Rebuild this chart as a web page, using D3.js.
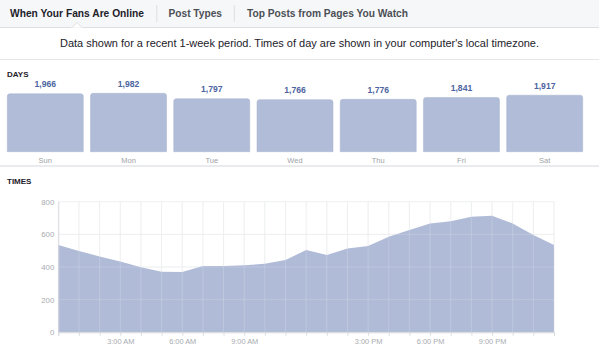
<!DOCTYPE html>
<html><head><meta charset="utf-8">
<script src="https://cdn.jsdelivr.net/npm/d3@7"></script>
<style>html,body{margin:0;padding:0;background:#fff;overflow:hidden}</style>
</head><body><svg id="c" width="599" height="347"></svg>
<script>
const tabs = ["When Your Fans Are Online", "Post Types", "Top Posts from Pages You Watch"];
const subtitle = "Data shown for a recent 1-week period. Times of day are shown in your computer's local timezone.";
const days = ["Sun", "Mon", "Tue", "Wed", "Thu", "Fri", "Sat"];
const dayValues = [1966, 1982, 1797, 1766, 1776, 1841, 1917];
const hours = [0,1,2,3,4,5,6,7,8,9,10,11,12,13,14,15,16,17,18,19,20,21,22,23,24];
const hourValues = [535,498,465,433,398,371,369,406,406,410,420,443,504,473,514,528,586,626,667,680,708,714,667,596,535];
const yTicks = [0, 200, 400, 600, 800];
const xTickHours = [3, 6, 9, 15, 18, 21];
const xTickLabels = ["3:00 AM", "6:00 AM", "9:00 AM", "3:00 PM", "6:00 PM", "9:00 PM"];

const svg = d3.select("#c");
const font = "'Liberation Sans', Arial, Helvetica, sans-serif";
svg.style("font-family", font);

// Header tab bar
svg.append("rect").attr("x",0).attr("y",0).attr("width",599).attr("height",27.5).attr("fill","#f6f7f9");
svg.append("line").attr("x1",0).attr("x2",599).attr("y1",27.5).attr("y2",27.5).attr("stroke","#dddfe2");
svg.append("path").attr("d","M71.5,28 L77,22.5 L82.5,28 Z").attr("fill","#fff").attr("stroke","#dddfe2");
svg.append("rect").attr("x",71).attr("y",27.6).attr("width",12).attr("height",2).attr("fill","#fff");
const tabX = [10, 168.5, 247];
const tabW = [134, 53.5, 161];
tabs.forEach((t,i)=>{
  svg.append("text").attr("x",tabX[i]).attr("y",17.2).text(t)
    .attr("font-size",10).attr("font-weight","bold")
    .attr("fill", i===0 ? "#1d2129" : "#4b4f56")
    .attr("textLength",tabW[i]).attr("lengthAdjust","spacingAndGlyphs");
});
[156.8, 234.3].forEach(x=>svg.append("line").attr("x1",x).attr("x2",x).attr("y1",5).attr("y2",22).attr("stroke","#dddfe2"));

svg.append("text").attr("x",60).attr("y",47.3).text(subtitle)
  .attr("font-size",10).attr("fill","#1d2129")
  .attr("textLength",479).attr("lengthAdjust","spacingAndGlyphs");
svg.append("line").attr("x1",0).attr("x2",599).attr("y1",59.5).attr("y2",59.5).attr("stroke","#e5e6e9");

// DAYS
svg.append("text").attr("x",7).attr("y",76.8).text("DAYS").attr("font-size",8).attr("font-weight","bold").attr("fill","#1d2129");
const xb = d3.scaleBand().domain(days).range([7.3, 582.7]).paddingInner(0.087).paddingOuter(0);
const yb = d3.scaleLinear().domain([0, d3.max(dayValues)]).range([151.7, 93.3]);
const barG = svg.append("g");
days.forEach((d,i)=>{
  const v = dayValues[i];
  barG.append("path")
    .attr("d", (()=>{ const x=xb(d), w=xb.bandwidth(), y=yb(v), b=yb(0), r=2.5;
      return `M${x},${b} L${x},${y+r} Q${x},${y} ${x+r},${y} L${x+w-r},${y} Q${x+w},${y} ${x+w},${y+r} L${x+w},${b} Z`; })())
    .attr("fill","#b1bcd8").attr("stroke","#a6b2cf").attr("stroke-width",0.5);
  barG.append("text").attr("x",xb(d)+xb.bandwidth()/2).attr("y",yb(v)-6.3)
    .attr("text-anchor","middle").attr("font-size",8.6).attr("font-weight","bold").attr("fill","#4c64a0")
    .text(d3.format(",")(v));
  barG.append("text").attr("x",xb(d)+xb.bandwidth()/2).attr("y",162.8)
    .attr("text-anchor","middle").attr("font-size",7.5).attr("fill","#a0a3a8").text(d);
});
svg.append("rect").attr("x",0).attr("y",165).attr("width",599).attr("height",2).attr("fill","#e9ebee");

// TIMES
svg.append("text").attr("x",7).attr("y",184).text("TIMES").attr("font-size",8).attr("font-weight","bold").attr("fill","#1d2129");
const xt = d3.scaleLinear().domain([0,24]).range([58.3, 554]);
const yt = d3.scaleLinear().domain([0,800]).range([332.3, 201.7]);

const gridCol = "#e6e7ea";
const grid = svg.append("g");
hours.forEach(h=>grid.append("line").attr("x1",xt(h)).attr("x2",xt(h)).attr("y1",yt(800)).attr("y2",yt(0)).attr("stroke",gridCol).attr("stroke-width",0.8));
yTicks.forEach(v=>grid.append("line").attr("x1",xt(0)).attr("x2",xt(24)).attr("y1",yt(v)).attr("y2",yt(v)).attr("stroke",gridCol).attr("stroke-width",0.8));

const area = d3.area().x((d,i)=>xt(hours[i])).y0(yt(0)).y1(d=>yt(d));
svg.append("path").attr("d", area(hourValues)).attr("fill","#b0bbd7");

const grid2 = svg.append("g");
hours.forEach(h=>grid2.append("line").attr("x1",xt(h)).attr("x2",xt(h)).attr("y1",yt(800)).attr("y2",yt(0)).attr("stroke","rgba(255,255,255,0.22)").attr("stroke-width",0.8));
yTicks.forEach(v=>grid2.append("line").attr("x1",xt(0)).attr("x2",xt(24)).attr("y1",yt(v)).attr("y2",yt(v)).attr("stroke","rgba(255,255,255,0.22)").attr("stroke-width",0.8));

// Axes
const yAxis = d3.axisLeft(yt).tickValues(yTicks).tickSize(0).tickPadding(4);
const ya = svg.append("g").attr("transform",`translate(${xt(0)},0)`).call(yAxis);
ya.select(".domain").attr("stroke","#d3d5d9").attr("stroke-width",0.8);
ya.selectAll("text").attr("font-size",7.8).attr("fill","#a8abb0").attr("font-family",font);

const xAxis = d3.axisBottom(xt).tickValues(hours).tickSize(3.5).tickFormat(h=>{ const i=xTickHours.indexOf(h); return i>=0?xTickLabels[i]:""; }).tickPadding(2.5);
const xa = svg.append("g").attr("transform",`translate(0,${yt(0)})`).call(xAxis);
xa.select(".domain").attr("stroke","#d3d5d9").attr("stroke-width",0.8);
xa.selectAll(".tick line").attr("stroke","#d3d5d9").attr("stroke-width",0.8);
xa.selectAll("text").attr("font-size",7.4).attr("fill","#a8abb0").attr("font-family",font);
</script></body></html>
